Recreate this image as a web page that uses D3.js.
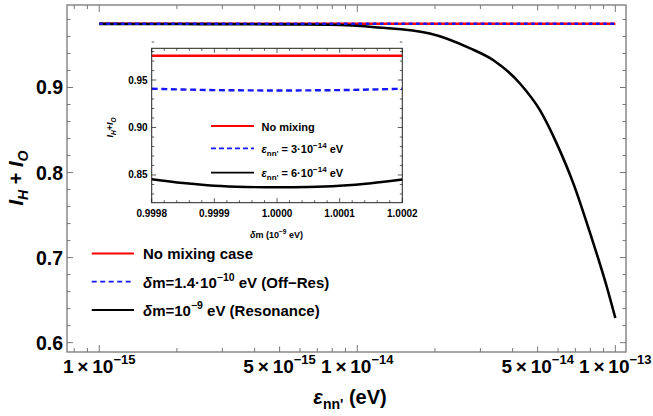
<!DOCTYPE html>
<html>
<head>
<meta charset="utf-8">
<script src="https://cdn.jsdelivr.net/npm/d3@7"></script>
<style>
    body { margin: 0; background: #fff; }
    svg { display: block; }
    text { font-family: "Liberation Sans", Arial, sans-serif; font-weight: bold; fill: #000; }
</style>
</head>
<body>
<div id="vis-container"></div>
<script>
// Main panel data
const noMixEps = [1e-15, 1e-13];
const noMixVals = [0.975, 0.975];
const offResEps = [1e-15, 1e-13];
const offResVals = [0.975, 0.975];
const resEps = [1e-15, 2e-15, 5e-15, 7.84e-15, 1.2e-14, 1.91e-14, 2.74e-14, 3.37e-14, 4.27e-14, 5.11e-14, 5.93e-14, 6.88e-14, 7.98e-14, 9.26e-14, 1e-13];
const resVals = [0.9748, 0.9746, 0.9742, 0.9737, 0.9706, 0.9635, 0.946, 0.932, 0.9047, 0.873, 0.834, 0.787, 0.729, 0.666, 0.629];

// Main axis ticks
const xLabelTicks = [1e-15, 5e-15, 1e-14, 5e-14, 1e-13];
const xTickMant = ["1", "5", "1", "5", "1"];
const xTickExp = ["\u221215", "\u221215", "\u221214", "\u221214", "\u221213"];
const yMajorTicks = [0.6, 0.7, 0.8, 0.9];
const yTickLabels = ["0.6", "0.7", "0.8", "0.9"];

// Inset data
const insetDm = [0.9998, 0.99985, 0.9999, 0.99995, 1.0, 1.00005, 1.0001, 1.00015, 1.0002];
const insetNoMix = [0.9756, 0.9756, 0.9756, 0.9756, 0.9756, 0.9756, 0.9756, 0.9756, 0.9756];
const insetEps3 = [0.9408, 0.9400, 0.9394, 0.9391, 0.9390, 0.9391, 0.9394, 0.9400, 0.9408];
const insetEps6 = [0.8455, 0.8415, 0.8387, 0.8374, 0.8370, 0.8374, 0.8387, 0.8413, 0.8452];
const insetXTicks = [0.9998, 0.9999, 1.0, 1.0001, 1.0002];
const insetXLabels = ["0.9998", "0.9999", "1.0000", "1.0001", "1.0002"];
const insetYTicks = [0.85, 0.9, 0.95];
const insetYLabels = ["0.85", "0.90", "0.95"];

function main()
{
    const width = 653, height = 416;
    const frame = { left: 67, right: 626, top: 5, bottom: 352 };
    const inset = { left: 151.7, right: 402.3, top: 48.3, bottom: 202.7 };
    const frameColor = "#777";

    const svg = d3.select("#vis-container")
        .append("svg")
        .attr("width", width)
        .attr("height", height);

    // Scales for the main panel
    const x = d3.scaleLog().domain([7.5e-16, 1.1e-13]).range([frame.left, frame.right]);
    const y = d3.scaleLinear().domain([0.589, 0.997]).range([frame.bottom, frame.top]);

    // Log tick positions (every integer multiple inside the domain)
    const xAllTicks = [];
    [-16, -15, -14, -13].forEach(p => {
        for (let m = 1; m <= 9; m++) {
            const v = m * Math.pow(10, p);
            if (v >= 7.5e-16 && v <= 1.1e-13) xAllTicks.push(v);
        }
    });
    const tickLen = v => {
        const m = Math.round(v / Math.pow(10, Math.floor(Math.log10(v) + 1e-9)));
        if (m === 1) return 7;
        if (m === 5) return 5.5;
        return 4;
    };

    const yMinor = d3.range(0.6, 0.99, 0.02).map(v => +v.toFixed(2));

    const ticks = svg.append("g").attr("stroke", frameColor).attr("stroke-width", 1);

    // x ticks bottom and top
    xAllTicks.forEach(v => {
        const px = x(v), len = tickLen(v);
        ticks.append("line").attr("x1", px).attr("x2", px).attr("y1", frame.bottom).attr("y2", frame.bottom - len);
        ticks.append("line").attr("x1", px).attr("x2", px).attr("y1", frame.top).attr("y2", frame.top + len);
    });

    // y ticks left and right
    yMinor.forEach(v => {
        const major = yMajorTicks.some(t => Math.abs(t - v) < 1e-6);
        const len = major ? 6 : 3.5;
        const py = y(v);
        ticks.append("line").attr("x1", frame.left).attr("x2", frame.left + len).attr("y1", py).attr("y2", py);
        ticks.append("line").attr("x1", frame.right).attr("x2", frame.right - len).attr("y1", py).attr("y2", py);
    });

    // Frame
    svg.append("rect")
        .attr("x", frame.left).attr("y", frame.top)
        .attr("width", frame.right - frame.left).attr("height", frame.bottom - frame.top)
        .attr("fill", "none").attr("stroke", frameColor).attr("stroke-width", 1.3);

    // y tick labels
    svg.append("g").selectAll("text")
        .data(yMajorTicks)
        .enter()
        .append("text")
        .attr("x", frame.left - 4)
        .attr("y", d => y(d) + 7)
        .attr("text-anchor", "end")
        .attr("font-size", 19.5)
        .text((_, i) => yTickLabels[i]);

    // x tick labels with superscripts
    xLabelTicks.forEach((v, i) => {
        const t = svg.append("text")
            .attr("x", x(v))
            .attr("y", 373)
            .attr("text-anchor", "middle")
            .attr("font-size", 19);
        t.append("tspan").text(xTickMant[i] + "\u2009\u00d7\u200910");
        t.append("tspan").attr("dy", -9).attr("font-size", 13).text(xTickExp[i]);
    });

    // Axis titles
    const xTitle = svg.append("text")
        .attr("x", 350).attr("y", 404)
        .attr("text-anchor", "middle")
        .attr("font-size", 20);
    xTitle.append("tspan").attr("font-style", "italic").text("\u03b5");
    xTitle.append("tspan").attr("dy", 5).attr("font-size", 14).text("nn'");
    xTitle.append("tspan").attr("dy", -5).text(" (eV)");

    const yTitle = svg.append("text")
        .attr("transform", "translate(23,178) rotate(-90)")
        .attr("text-anchor", "middle")
        .attr("font-size", 20);
    yTitle.append("tspan").attr("font-style", "italic").text("I");
    yTitle.append("tspan").attr("dy", 5).attr("font-size", 14).attr("font-style", "italic").text("H");
    yTitle.append("tspan").attr("dy", -5).text(" + ");
    yTitle.append("tspan").attr("font-style", "italic").text("I");
    yTitle.append("tspan").attr("dy", 5).attr("font-size", 14).attr("font-style", "italic").text("O");

    // Main curves
    const line = d3.line().x(d => x(d[0])).y(d => y(d[1])).curve(d3.curveMonotoneX);
    const plot = svg.append("g");

    plot.append("path")
        .datum(noMixEps.map((e, i) => [e, noMixVals[i]]))
        .attr("d", line).attr("fill", "none").attr("stroke", "#f00").attr("stroke-width", 2.6);

    plot.append("path")
        .datum(resEps.map((e, i) => [e, resVals[i]]))
        .attr("d", line).attr("fill", "none").attr("stroke", "#000").attr("stroke-width", 2.6);

    plot.append("path")
        .datum(offResEps.map((e, i) => [e, offResVals[i]]))
        .attr("d", line).attr("fill", "none").attr("stroke", "#1515ff").attr("stroke-width", 2.6)
        .attr("stroke-dasharray", "3.6,3.6");

    // Main legend
    const legendRows = [
        { y: 253.5, color: "#f00", dash: null },
        { y: 281.7, color: "#1515ff", dash: "5,3.5" },
        { y: 310, color: "#000", dash: null }
    ];
    legendRows.forEach(r => {
        svg.append("line")
            .attr("x1", 91.7).attr("x2", 134).attr("y1", r.y).attr("y2", r.y)
            .attr("stroke", r.color).attr("stroke-width", 1.8)
            .attr("stroke-dasharray", r.dash);
    });
    svg.append("text").attr("x", 143).attr("y", 259).attr("font-size", 15).text("No mixing case");

    const lg2 = svg.append("text").attr("x", 143).attr("y", 287.5).attr("font-size", 15);
    lg2.append("tspan").attr("font-style", "italic").text("\u03b4");
    lg2.append("tspan").text("m=1.4\u00b710");
    lg2.append("tspan").attr("dy", -7).attr("font-size", 10.5).text("\u221210");
    lg2.append("tspan").attr("dy", 7).text(" eV (Off\u2212Res)");

    const lg3 = svg.append("text").attr("x", 143).attr("y", 315.8).attr("font-size", 15);
    lg3.append("tspan").attr("font-style", "italic").text("\u03b4");
    lg3.append("tspan").text("m=10");
    lg3.append("tspan").attr("dy", -7).attr("font-size", 10.5).text("\u22129");
    lg3.append("tspan").attr("dy", 7).text(" eV (Resonance)");

    // ---------- Inset ----------
    const xs = d3.scaleLinear().domain([0.9998, 1.0002]).range([inset.left, inset.right]);
    const ys = d3.scaleLinear().domain([0.8208, 0.9834]).range([inset.bottom, inset.top]);

    const ins = svg.append("g");
    ins.append("rect")
        .attr("x", inset.left).attr("y", inset.top)
        .attr("width", inset.right - inset.left).attr("height", inset.bottom - inset.top)
        .attr("fill", "#fff");

    const insTicks = ins.append("g").attr("stroke", "#333").attr("stroke-width", 0.8);
    d3.range(0, 21).map(i => 0.9998 + i * 0.00002).forEach((v, i) => {
        const len = i % 5 === 0 ? 4.5 : 2.5;
        const px = xs(v);
        insTicks.append("line").attr("x1", px).attr("x2", px).attr("y1", inset.bottom).attr("y2", inset.bottom - len);
        insTicks.append("line").attr("x1", px).attr("x2", px).attr("y1", inset.top).attr("y2", inset.top + len);
    });
    d3.range(0, 17).map(i => 0.83 + i * 0.01).forEach(v => {
        const major = insetYTicks.some(t => Math.abs(t - v) < 1e-6);
        const len = major ? 4.5 : 2.5;
        const py = ys(v);
        insTicks.append("line").attr("x1", inset.left).attr("x2", inset.left + len).attr("y1", py).attr("y2", py);
        insTicks.append("line").attr("x1", inset.right).attr("x2", inset.right - len).attr("y1", py).attr("y2", py);
    });

    const insLine = d3.line().x(d => xs(d[0])).y(d => ys(d[1])).curve(d3.curveMonotoneX);
    ins.append("path")
        .datum(insetDm.map((d, i) => [d, insetNoMix[i]]))
        .attr("d", insLine).attr("fill", "none").attr("stroke", "#f00").attr("stroke-width", 2.4);
    ins.append("path")
        .datum(insetDm.map((d, i) => [d, insetEps3[i]]))
        .attr("d", insLine).attr("fill", "none").attr("stroke", "#1515ff").attr("stroke-width", 2.4)
        .attr("stroke-dasharray", "6,3.6");
    ins.append("path")
        .datum(insetDm.map((d, i) => [d, insetEps6[i]]))
        .attr("d", insLine).attr("fill", "none").attr("stroke", "#000").attr("stroke-width", 2.4);

    ins.append("rect")
        .attr("x", inset.left).attr("y", inset.top)
        .attr("width", inset.right - inset.left).attr("height", inset.bottom - inset.top)
        .attr("fill", "none").attr("stroke", "#222").attr("stroke-width", 1);

    ins.append("g").selectAll("text")
        .data(insetYTicks)
        .enter()
        .append("text")
        .attr("x", inset.left - 4)
        .attr("y", d => ys(d) + 3.5)
        .attr("text-anchor", "end")
        .attr("font-size", 10)
        .text((_, i) => insetYLabels[i]);

    ins.append("g").selectAll("text")
        .data(insetXTicks)
        .enter()
        .append("text")
        .attr("x", d => xs(d))
        .attr("y", 217)
        .attr("text-anchor", "middle")
        .attr("font-size", 10)
        .text((_, i) => insetXLabels[i]);

    const ixTitle = ins.append("text").attr("x", 276.5).attr("y", 237.5).attr("text-anchor", "middle").attr("font-size", 9);
    ixTitle.append("tspan").attr("font-style", "italic").text("\u03b4");
    ixTitle.append("tspan").text("m (10");
    ixTitle.append("tspan").attr("dy", -4).attr("font-size", 6.5).text("\u22129");
    ixTitle.append("tspan").attr("dy", 4).text(" eV)");

    const iyTitle = ins.append("text")
        .attr("transform", "translate(113,127.5) rotate(-90)")
        .attr("text-anchor", "middle").attr("font-size", 9);
    iyTitle.append("tspan").attr("font-style", "italic").text("I");
    iyTitle.append("tspan").attr("dy", 2.5).attr("font-size", 6.5).attr("font-style", "italic").text("H");
    iyTitle.append("tspan").attr("dy", -2.5).text("+");
    iyTitle.append("tspan").attr("font-style", "italic").text("I");
    iyTitle.append("tspan").attr("dy", 2.5).attr("font-size", 6.5).attr("font-style", "italic").text("O");

    // Inset legend
    const insRows = [
        { y: 126, color: "#f00", dash: null },
        { y: 148.3, color: "#1515ff", dash: "5,3" },
        { y: 172.7, color: "#000", dash: null }
    ];
    insRows.forEach(r => {
        ins.append("line")
            .attr("x1", 211).attr("x2", 254).attr("y1", r.y).attr("y2", r.y)
            .attr("stroke", r.color).attr("stroke-width", 1.8)
            .attr("stroke-dasharray", r.dash);
    });
    ins.append("text").attr("x", 261.5).attr("y", 130.5).attr("font-size", 11).text("No mixing");
    [["3", 153], ["6", 177.3]].forEach(([n, yy]) => {
        const t = ins.append("text").attr("x", 261.5).attr("y", yy).attr("font-size", 11);
        t.append("tspan").attr("font-style", "italic").text("\u03b5");
        t.append("tspan").attr("dy", 2.5).attr("font-size", 8).text("nn'");
        t.append("tspan").attr("dy", -2.5).text(" = " + n + "\u00b710");
        t.append("tspan").attr("dy", -5).attr("font-size", 8).text("\u221214");
        t.append("tspan").attr("dy", 5).text(" eV");
    });
}

document.addEventListener("DOMContentLoaded", main);
</script>
</body>
</html>
